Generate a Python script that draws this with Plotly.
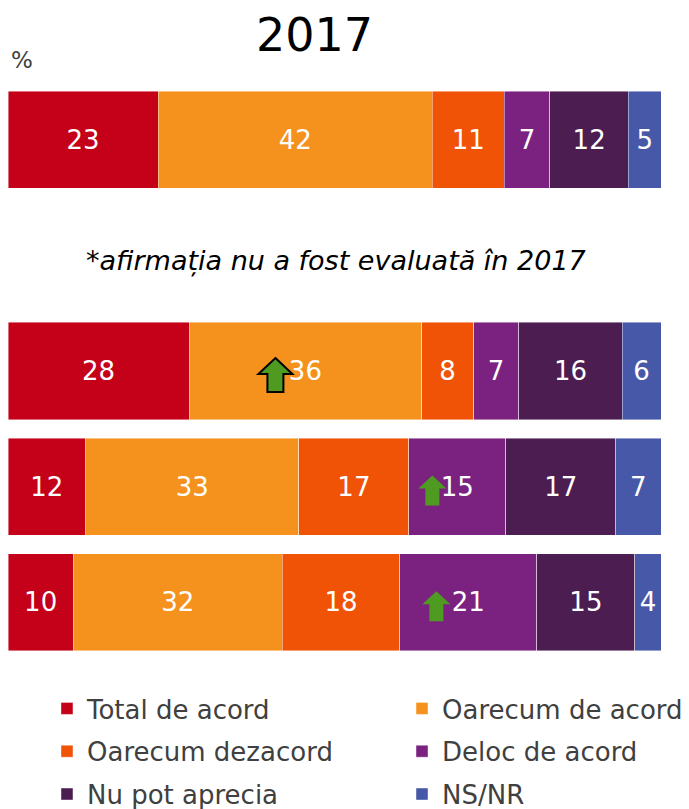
import plotly.graph_objects as go

rows = ["s1", "s2", "s3", "s4", "s5"]
answers = [
    "Total de acord",
    "Oarecum de acord",
    "Oarecum dezacord",
    "Deloc de acord",
    "Nu pot aprecia",
    "NS/NR",
]
colors = ["#C50019", "#F5921E", "#F05206", "#7B2281", "#4C1D50", "#4758A8"]

# one list per answer, values for rows s1, s3, s4, s5 (s2 was not asked in 2017)
bar_rows = ["s1", "s3", "s4", "s5"]
total_acord = [23, 28, 12, 10]
oarecum_acord = [42, 36, 33, 32]
oarecum_dezacord = [11, 8, 17, 18]
deloc_acord = [7, 7, 15, 21]
nu_pot = [12, 16, 17, 15]
ns_nr = [5, 6, 7, 4]
series = [total_acord, oarecum_acord, oarecum_dezacord, deloc_acord, nu_pot, ns_nr]

# significant increases: (row, answer index, outlined)
arrows = [("s3", 1, True), ("s4", 3, False), ("s5", 3, False)]
arrow_shift = [-30, -25, -32]  # px left of the segment label

note = "*afirmația nu a fost evaluată în 2017"
title = "2017"

FONT = "DejaVu Sans"

fig = go.Figure()
for i, (name, vals) in enumerate(zip(answers, series)):
    fig.add_trace(
        go.Bar(
            y=bar_rows,
            x=vals,
            name=name,
            orientation="h",
            marker={"color": colors[i], "line": {"color": "rgba(255,255,255,0.55)", "width": 0.8}},
            text=vals,
            textposition="inside",
            insidetextanchor="middle",
            textangle=0,
            textfont={"family": FONT, "size": 26, "color": "white"},
            legend="legend" if i % 2 == 0 else "legend2",
            legendgroup=name,
            hoverinfo="skip",
        )
    )

# arrows anchored at the middle of the segment, drawn left of the label
up_big = "M0,17 L17,1 L8,1 L8,-17 L-8,-17 L-8,1 L-17,1 Z"
up_small = "M0,15 L14,2 L7,2 L7,-15 L-7,-15 L-7,2 L-14,2 Z"
for (row, idx, outlined), shift in zip(arrows, arrow_shift):
    r = bar_rows.index(row)
    row_vals = [s[r] for s in series]
    total = sum(row_vals)
    centre = (sum(row_vals[:idx]) + row_vals[idx] / 2) / total * 100
    path = up_big if outlined else up_small
    moved = []
    for tok in path.split():
        if "," in tok:
            cmd = tok[0]
            px, py = tok[1:].split(",")
            moved.append(f"{cmd}{float(px) + shift:g},{float(py) - 4:g}")
        else:
            moved.append(tok)
    fig.add_shape(
        type="path",
        xref="x",
        yref="y",
        xsizemode="pixel",
        ysizemode="pixel",
        xanchor=centre,
        yanchor=row,
        path=" ".join(moved),
        fillcolor="#4F9A21",
        line={"color": "black" if outlined else "#4F9A21", "width": 2 if outlined else 0},
        layer="above",
    )

fig.add_annotation(
    text=title,
    x=0.470,
    y=1.082,
    xref="paper",
    yref="paper",
    showarrow=False,
    font={"family": FONT, "size": 46, "color": "black"},
    xanchor="center",
    yanchor="middle",
)
fig.add_annotation(
    text="%",
    x=0.0214,
    y=1.038,
    xref="paper",
    yref="paper",
    showarrow=False,
    font={"family": FONT, "size": 23, "color": "#404040"},
    xanchor="center",
    yanchor="middle",
)
fig.add_annotation(
    text=f"<i>{note}</i>",
    x=0.502,
    y="s2",
    xref="paper",
    yref="y",
    yshift=-6,
    showarrow=False,
    font={"family": FONT, "size": 27, "color": "black"},
    xanchor="center",
    yanchor="middle",
)

legend_style = {
    "orientation": "v",
    "xanchor": "left",
    "yanchor": "top",
    "y": -0.0433,
    "font": {"family": FONT, "size": 26, "color": "#404040"},
    "traceorder": "grouped",
    "tracegroupgap": 6,
    "bgcolor": "rgba(0,0,0,0)",
}

fig.update_layout(
    width=681,
    height=801,
    barmode="stack",
    barnorm="percent",
    bargap=0.16,
    plot_bgcolor="white",
    paper_bgcolor="white",
    margin={"l": 0, "r": 28, "t": 74, "b": 149, "autoexpand": False},
    showlegend=True,
    legend={**legend_style, "x": 0.0597},
    legend2={**legend_style, "x": 0.6034},
    font={"family": FONT},
)
fig.update_xaxes(range=[0, 100], visible=False, fixedrange=True)
fig.update_yaxes(
    type="category",
    categoryorder="array",
    categoryarray=rows,
    range=[4.5, -0.5],
    visible=False,
    fixedrange=True,
)

fig.write_html("out.html")
